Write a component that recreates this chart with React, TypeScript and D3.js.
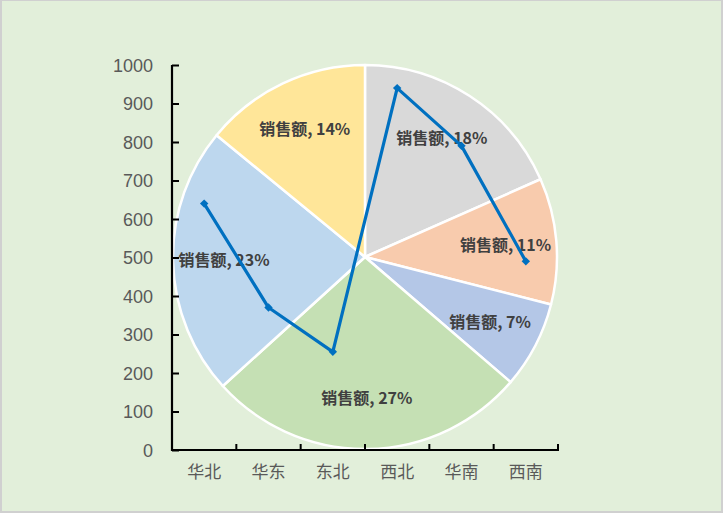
import { useEffect, useRef } from "react";
import * as d3 from "d3";

// Chart data
const regions = ["华北", "华东", "东北", "西北", "华南", "西南"];
const sales = [640, 370, 255, 940, 790, 490];
const sliceColors = ["#D9D9D9", "#F8CBAD", "#B4C7E7", "#C5E0B4", "#BDD7EE", "#FFE699"];
const yTicks = [0, 100, 200, 300, 400, 500, 600, 700, 800, 900, 1000];
const seriesName = "销售额";

const W = 723;
const H = 513;

export default function App() {
  const svgRef = useRef<SVGSVGElement | null>(null);

  useEffect(() => {
    const svg = d3.select(svgRef.current).attr("width", W).attr("height", H);
    svg.selectAll("*").remove();

    // Background
    svg.append("rect").attr("width", W).attr("height", H).attr("fill", "#E2EFDA");
    svg
      .append("rect")
      .attr("x", 1)
      .attr("y", 0)
      .attr("width", W - 2)
      .attr("height", H - 1)
      .attr("fill", "none")
      .attr("stroke", "#D0D0D0")
      .attr("stroke-width", 2);

    // Pie
    const cx = 365;
    const cy = 257;
    const r = 192;
    const pie = d3.pie<number>().sort(null).value((d) => d);
    const arcs = pie(sales);
    const arc = d3.arc<d3.PieArcDatum<number>>().innerRadius(0).outerRadius(r);
    const labelArc = d3.arc<d3.PieArcDatum<number>>().innerRadius(141).outerRadius(141);
    const total = d3.sum(sales);

    const pieG = svg.append("g").attr("transform", `translate(${cx},${cy})`);
    pieG
      .selectAll("path")
      .data(arcs)
      .join("path")
      .attr("d", arc)
      .attr("fill", (_, i) => sliceColors[i])
      .attr("stroke", "#FFFFFF")
      .attr("stroke-width", 2.5)
      .attr("stroke-linejoin", "round");

    // Axes area
    const x = d3.scaleBand().domain(regions).range([172, 558]);
    const y = d3.scaleLinear().domain([0, 1000]).range([450, 65]);

    const yAxis = svg.append("g").attr("transform", "translate(172,0)");
    yAxis.call(d3.axisRight(y).tickValues(yTicks).tickSize(7).tickFormat(() => ""));
    yAxis.select(".domain").remove();
    yAxis.selectAll(".tick line").attr("stroke", "#000").attr("stroke-width", 2);
    yAxis
      .selectAll(".tick")
      .append("text")
      .attr("x", -19)
      .attr("dy", "0.35em")
      .attr("text-anchor", "end")
      .attr("fill", "#595959")
      .style("font-family", "'Liberation Sans', 'Noto Sans', sans-serif")
      .style("font-size", "18px")
      .text((d) => String(d));
    yAxis
      .append("line")
      .attr("y1", y(0) + 1)
      .attr("y2", y(1000))
      .attr("stroke", "#000")
      .attr("stroke-width", 2.2);

    const xAxis = svg.append("g").attr("transform", "translate(0,450)");
    const boundaries = regions.map((d) => (x(d) ?? 0) + x.bandwidth());
    xAxis
      .selectAll("line.tk")
      .data(boundaries)
      .join("line")
      .attr("class", "tk")
      .attr("x1", (d) => d)
      .attr("x2", (d) => d)
      .attr("y1", 0)
      .attr("y2", -6)
      .attr("stroke", "#000")
      .attr("stroke-width", 2);
    xAxis
      .append("line")
      .attr("x1", 171)
      .attr("x2", 559)
      .attr("stroke", "#000")
      .attr("stroke-width", 2.2);
    xAxis
      .selectAll("text")
      .data(regions)
      .join("text")
      .attr("x", (d) => (x(d) ?? 0) + x.bandwidth() / 2)
      .attr("y", 28)
      .attr("text-anchor", "middle")
      .attr("fill", "#595959")
      .style("font-family", "'Noto Sans CJK SC', sans-serif")
      .style("font-size", "17px")
      .text((d) => d);

    // Pie labels
    pieG
      .selectAll("text")
      .data(arcs)
      .join("text")
      .attr("transform", (d) => `translate(${labelArc.centroid(d)})`)
      .attr("text-anchor", "middle")
      .attr("dy", "0.35em")
      .attr("fill", "#404040")
      .style("font-family", "'Noto Sans CJK SC', sans-serif")
      .style("font-size", "16px")
      .style("font-weight", "bold")
      .text((d) => `${seriesName}, ${Math.round((d.value / total) * 100)}%`);

    // Line series
    const lineGen = d3
      .line<number>()
      .x((_, i) => (x(regions[i]) ?? 0) + x.bandwidth() / 2)
      .y((d) => y(d));
    svg
      .append("path")
      .datum(sales)
      .attr("d", lineGen)
      .attr("fill", "none")
      .attr("stroke", "#0070C0")
      .attr("stroke-width", 3.2)
      .attr("stroke-linejoin", "round");
    svg
      .selectAll("path.marker")
      .data(sales)
      .join("path")
      .attr("class", "marker")
      .attr("d", d3.symbol(d3.symbolDiamond2, 45))
      .attr(
        "transform",
        (d, i) => `translate(${(x(regions[i]) ?? 0) + x.bandwidth() / 2},${y(d)})`
      )
      .attr("fill", "#0070C0");
  }, []);

  return (
    <svg
      ref={svgRef}
      style={{ position: "absolute", left: 0, top: 0, display: "block" }}
    />
  );
}
